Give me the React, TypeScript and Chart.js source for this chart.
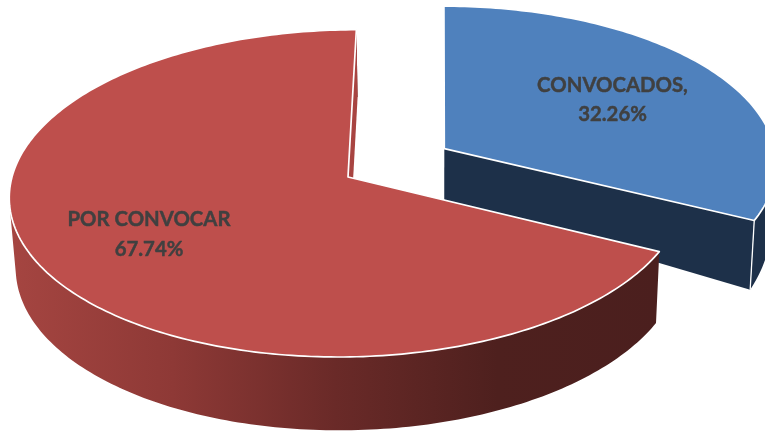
import React, { useEffect, useRef } from "react";
import { Chart, registerables } from "chart.js";

Chart.register(...registerables);

const categories = ["CONVOCADOS", "POR CONVOCAR"];
const values = [32.26, 67.74];
const explode = [0.338, 0];
const faceColors = ["#4F81BD", "#BE4F4C"];
const labelLines = [
  ["CONVOCADOS,", "32.26%"],
  ["POR CONVOCAR", "67.74%"],
];
const labelAnchors = [
  [612.5, 92],
  [149, 226],
];

// Perspective of the tilted disc
const R = 336;
const CX = 348;
const VX = 440;
const P = 0.1;
const TOP_Y = 177;
const TOP_K = 162;
// floor of each slice: [y at centre, y gain, perspective, x shrink]
const floors = [
  [236.3, 204.3, 0, 0.987],
  [247, 165, 0.1, 0.985],
];

type Pt = [number, number];
const top = (X: number, V: number): Pt => {
  const s = 1 / (1 - P * V);
  return [VX + (X - VX) * s, TOP_Y + TOP_K * V * s];
};
const bot = (i: number, X: number, V: number): Pt => {
  const [a, k, q, shrink] = floors[i];
  const s = shrink / (1 - P * V);
  return [VX + (X - VX) * s, a + (k * V) / (1 - q * V)];
};

const pie3d = {
  id: "pie3d",
  beforeDatasetsDraw(chart: any) {
    const ctx: CanvasRenderingContext2D = chart.ctx;
    const arcs = chart.getDatasetMeta(0).data;
    ctx.save();
    ctx.fillStyle = "#ffffff";
    ctx.fillRect(0, 0, chart.width, chart.height);

    arcs.forEach((arc: any, i: number) => {
      const a0 = arc.startAngle;
      const a1 = arc.endAngle;
      const mid = (a0 + a1) / 2;
      const ox = CX + Math.cos(mid) * explode[i] * R;
      const oy = Math.sin(mid) * explode[i];
      const ground = (a: number): [number, number] => [
        ox + Math.cos(a) * R,
        oy + Math.sin(a),
      ];
      const n = Math.ceil(((a1 - a0) * 180) / Math.PI);
      const angles: number[] = [];
      for (let k = 0; k <= n; k++) angles.push(a0 + ((a1 - a0) * k) / n);
      const tops = angles.map((a) => top(...ground(a)));
      const bots = angles.map((a, k): Pt => {
        const b = bot(i, ...ground(a));
        return b[1] < tops[k][1] ? [tops[k][0], tops[k][1]] : b;
      });
      const cTop = top(ox, oy);
      const cBot = bot(i, ox, oy);

      let wall: any = "#1D3049";
      if (i === 1) {
        const g = ctx.createLinearGradient(10, 0, 660, 0);
        g.addColorStop(0, "#A54541");
        g.addColorStop(0.25, "#8E3936");
        g.addColorStop(0.5, "#6A2A28");
        g.addColorStop(0.75, "#4E201E");
        g.addColorStop(1, "#4B1F1E");
        wall = g;
      }

      // outer wall: one quad per degree, same winding, filled as a single path
      ctx.fillStyle = wall;
      ctx.beginPath();
      for (let k = 0; k < n; k++) {
        const q: Pt[] = [tops[k], tops[k + 1], bots[k + 1], bots[k]];
        let area = 0;
        q.forEach((p, j) => {
          const r = q[(j + 1) % 4];
          area += p[0] * r[1] - r[0] * p[1];
        });
        const pts = area < 0 ? q.slice().reverse() : q;
        ctx.moveTo(pts[0][0], pts[0][1]);
        for (let j = 1; j < 4; j++) ctx.lineTo(pts[j][0], pts[j][1]);
        ctx.closePath();
      }
      ctx.fill("nonzero");

      // cut wall
      ctx.fillStyle = i === 0 ? "#1D3049" : "#A84441";
      ctx.beginPath();
      ctx.moveTo(cTop[0], cTop[1]);
      ctx.lineTo(tops[n][0], tops[n][1]);
      ctx.lineTo(bots[n][0], bots[n][1]);
      ctx.lineTo(cBot[0], cBot[1]);
      ctx.closePath();
      ctx.fill();

      // white corner edge of the exploded slice
      if (i === 0) {
        ctx.strokeStyle = "#ffffff";
        ctx.lineWidth = 1.3;
        ctx.beginPath();
        ctx.moveTo(tops[n][0], tops[n][1]);
        ctx.lineTo(bots[n][0], bots[n][1]);
        ctx.stroke();
      }

      // top face
      ctx.fillStyle = faceColors[i];
      ctx.strokeStyle = "#ffffff";
      ctx.lineWidth = 1.7;
      ctx.lineJoin = "round";
      ctx.beginPath();
      ctx.moveTo(cTop[0], cTop[1]);
      tops.forEach((p) => ctx.lineTo(p[0], p[1]));
      ctx.closePath();
      ctx.fill();
      ctx.stroke();
    });

    ctx.fillStyle = "#404040";
    ctx.strokeStyle = "#404040";
    ctx.lineWidth = 0.45;
    ctx.font = "bold 20.35px Lato, 'Open Sans', sans-serif";
    ctx.textAlign = "center";
    ctx.textBaseline = "alphabetic";
    labelLines.forEach((lines, i) => {
      lines.forEach((t, j) => {
        const y = labelAnchors[i][1] + j * (i === 0 ? 29 : 29.5);
        ctx.fillText(t, labelAnchors[i][0], y);
        ctx.strokeText(t, labelAnchors[i][0], y);
      });
    });
    ctx.restore();
    return false;
  },
};

export default function App() {
  const ref = useRef<HTMLCanvasElement>(null);
  useEffect(() => {
    const chart = new Chart(ref.current as HTMLCanvasElement, {
      type: "pie",
      data: {
        labels: categories,
        datasets: [{ data: values, backgroundColor: faceColors, borderColor: "#ffffff" }],
      },
      options: {
        responsive: false,
        animation: false,
        plugins: { legend: { display: false }, tooltip: { enabled: false } },
      },
      plugins: [pie3d],
    } as any);
    return () => chart.destroy();
  }, []);
  return (
    <canvas
      ref={ref}
      width={765}
      height={433}
      style={{ position: "absolute", left: 0, top: 0, width: 765, height: 433, display: "block" }}
    />
  );
}
